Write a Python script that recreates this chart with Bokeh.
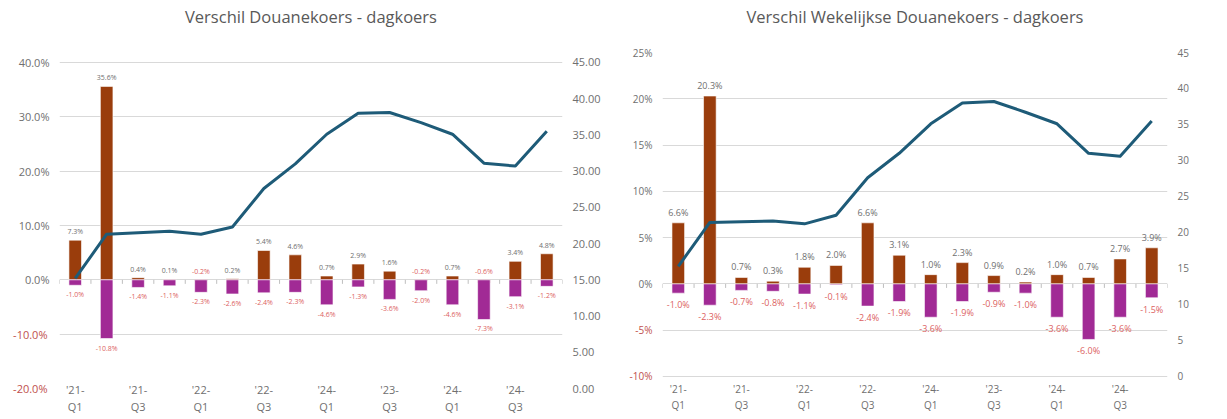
from bokeh.plotting import figure
from bokeh.models import Range1d, LinearAxis, FixedTicker, ColumnDataSource
from bokeh.layouts import row
from bokeh.embed import file_html
from bokeh.resources import INLINE
from bokeh.core.properties import value

quarters = ["'21-Q1", "'21-Q2", "'21-Q3", "'21-Q4", "'22-Q1", "'22-Q2", "'22-Q3", "'22-Q4",
            "'24-Q1", "'24-Q2", "'23-Q3", "'23-Q4", "'24-Q1", "'24-Q2", "'24-Q3", "'24-Q4"]
tick_years = ["'21-", "'21-", "'22-", "'22-", "'24-", "'23-", "'24-", "'24-"]
tick_quarters = ["Q1", "Q3", "Q1", "Q3", "Q1", "Q3", "Q1", "Q3"]

# Left chart: Verschil Douanekoers - dagkoers (%)
douane_pos = [7.3, 35.6, 0.4, 0.1, -0.2, 0.2, 5.4, 4.6, 0.7, 2.9, 1.6, -0.2, 0.7, -0.6, 3.4, 4.8]
douane_neg = [-1.0, -10.8, -1.4, -1.1, -2.3, -2.6, -2.4, -2.3, -4.6, -1.3, -3.6, -2.0, -4.6, -7.3, -3.1, -1.2]
douane_rate = [15.2, 21.3, 21.5, 21.7, 21.3, 22.3, 27.6, 31.0, 35.1, 38.0, 38.1, 36.7, 35.1, 31.1, 30.7, 35.5]

# Right chart: Verschil Wekelijkse Douanekoers - dagkoers (%)
week_pos = [6.6, 20.3, 0.7, 0.3, 1.8, 2.0, 6.6, 3.1, 1.0, 2.3, 0.9, 0.2, 1.0, 0.7, 2.7, 3.9]
week_neg = [-1.0, -2.3, -0.7, -0.8, -1.1, -0.1, -2.4, -1.9, -3.6, -1.9, -0.9, -1.0, -3.6, -6.0, -3.6, -1.5]
week_rate = [15.3, 21.4, 21.5, 21.6, 21.2, 22.4, 27.6, 31.0, 35.1, 38.0, 38.2, 36.7, 35.1, 31.0, 30.6, 35.5]

ORANGE = "#9A3D0C"
PURPLE = "#A12A95"
LINE = "#1E5B78"
GREY = "#6F6F6F"
RED_LBL = "#DC5F5F"
RED_AX = "#C0504D"
GRID = "#D9D9D9"
FONT = "Open Sans"


def style_axis(ax, color, standoff, size, tick_out=6):
    ax.axis_line_color = None
    ax.major_tick_line_color = None
    ax.minor_tick_line_color = None
    ax.major_tick_out = tick_out
    ax.major_tick_in = 0
    ax.minor_tick_out = 0
    ax.minor_tick_in = 0
    ax.major_label_text_font = FONT
    ax.major_label_text_font_size = size
    ax.major_label_text_color = color
    ax.major_label_standoff = standoff


def make_chart(title, pos, neg, rate, yticks, yrange, rrange, left_fmt, right_fmt,
               lab_size, ax_size, min_left, min_right, neg_standoff, spacer):
    n = len(quarters)
    xs = list(range(n))
    p = figure(width=605, height=419, output_backend="svg", toolbar_location=None,
               x_range=Range1d(-0.5, n - 0.5), y_range=Range1d(*yrange),
               min_border_top=52, min_border_bottom=31,
               min_border_left=min_left, min_border_right=min_right)
    p.outline_line_color = None
    p.background_fill_color = "white"
    p.extra_y_ranges = {"r": Range1d(*rrange)}

    # trailing empty line lifts the visible title line higher above the frame
    p.title.text = title + "\n"
    p.title.align = "center"
    p.title.text_font = FONT
    p.title.text_font_size = "16.5px"
    p.title.text_font_style = "normal"
    p.title.text_color = "#595959"
    p.title.standoff = 4

    pos_ticks = [t for t in yticks if t >= 0]
    neg_ticks = [t for t in yticks if t < 0]
    # grey labels for the non-negative ticks (closest to the frame)
    ax = p.yaxis[0]
    ax.ticker = FixedTicker(ticks=pos_ticks)
    ax.major_label_overrides = {t: left_fmt(t) for t in pos_ticks}
    style_axis(ax, GREY, 10, ax_size, tick_out=0)
    # red labels for the negative ticks, pulled back over the grey axis
    nax = LinearAxis(ticker=FixedTicker(ticks=neg_ticks))
    nax.major_label_overrides = {t: left_fmt(t) for t in neg_ticks}
    style_axis(nax, RED_AX, neg_standoff, ax_size, tick_out=6)
    p.add_layout(nax, "left")
    # invisible spacer axis on the outer edge (one hidden tick, no label text)
    sax = LinearAxis(ticker=FixedTicker(ticks=[yticks[0]]))
    sax.major_label_overrides = {yticks[0]: ""}
    style_axis(sax, GREY, 0, ax_size, tick_out=spacer)
    p.add_layout(sax, "left")

    rticks = list(range(0, 46, 5))
    rax = LinearAxis(y_range_name="r", ticker=FixedTicker(ticks=rticks))
    rax.major_label_overrides = {t: right_fmt(t) for t in rticks}
    style_axis(rax, GREY, 10, ax_size, tick_out=0)
    p.add_layout(rax, "right")

    xticks = list(range(0, n, 2))
    xax = p.xaxis[0]
    xax.ticker = FixedTicker(ticks=xticks)
    xax.major_label_overrides = {t: lab for t, lab in zip(xticks, tick_years)}
    style_axis(xax, GREY, -13, ax_size)
    qax = LinearAxis(ticker=FixedTicker(ticks=xticks))
    qax.major_label_overrides = {t: lab for t, lab in zip(xticks, tick_quarters)}
    style_axis(qax, GREY, -7, ax_size)
    p.add_layout(qax, "below")

    p.xgrid.grid_line_color = None
    p.ygrid.ticker = FixedTicker(ticks=yticks)
    p.ygrid.grid_line_color = GRID
    p.ygrid.grid_line_width = 1

    src = ColumnDataSource(dict(
        x=xs, pos=pos, neg=neg, rate=rate,
        top_lab=[max(v, 0) for v in pos],
        pos_txt=["%.1f%%" % v for v in pos],
        neg_txt=["%.1f%%" % v for v in neg],
        pos_col=[GREY if v >= 0 else RED_LBL for v in pos],
    ))

    p.vbar(x="x", top="pos", bottom=0, width=0.4, source=src, fill_color=ORANGE,
           line_color="white", line_width=0.6)
    p.vbar(x="x", top=0, bottom="neg", width=0.4, source=src, fill_color=PURPLE,
           line_color="white", line_width=0.6)

    # small category tick marks below the zero line
    bounds = [i - 0.5 for i in range(n + 1)]
    tick_len = (yrange[1] - yrange[0]) * 0.012
    p.segment(x0=bounds, x1=bounds, y0=[0] * len(bounds), y1=[-tick_len] * len(bounds),
              line_color="#BFBFBF", line_width=1)

    p.text(x="x", y="top_lab", text="pos_txt", source=src, text_align="center",
           text_baseline="bottom", y_offset=-4, text_font=value(FONT),
           text_font_size=lab_size, text_color="pos_col")
    p.text(x="x", y="neg", text="neg_txt", source=src, text_align="center",
           text_baseline="top", y_offset=5, text_font=value(FONT),
           text_font_size=lab_size, text_color=RED_LBL)

    p.line(x="x", y="rate", source=src, y_range_name="r", line_color=LINE, line_width=3,
           line_join="round")
    return p


left = make_chart("Verschil Douanekoers - dagkoers", douane_pos, douane_neg, douane_rate,
                  list(range(-20, 41, 10)), (-20, 41.84), (0, 46.38),
                  lambda t: "%.1f%%" % t, lambda t: "%.2f" % t,
                  "7px", "11px", 54, 43, -38, 10)
right = make_chart("Verschil Wekelijkse Douanekoers - dagkoers", week_pos, week_neg, week_rate,
                   list(range(-10, 26, 5)), (-11.3, 25), (-1.667, 45),
                   lambda t: "%d%%" % t, lambda t: "%d" % t,
                   "9px", "10px", 57, 43, -29, 14)

layout = row(left, right)
open("out.html", "w").write(file_html(layout, INLINE))
